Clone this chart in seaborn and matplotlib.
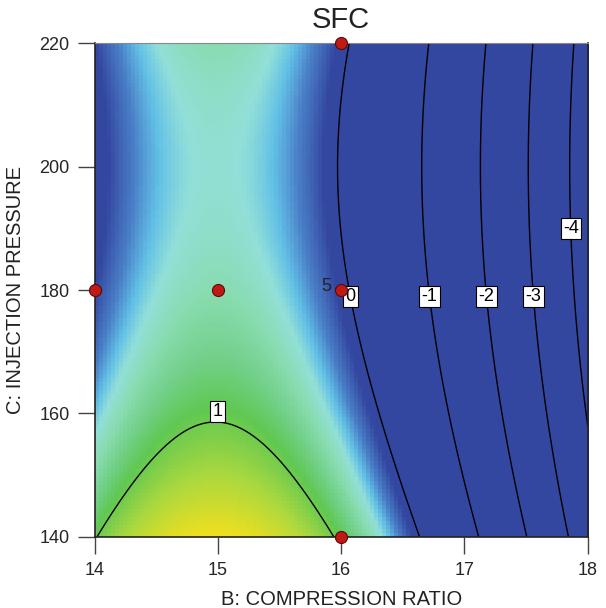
import matplotlib
matplotlib.use("Agg")
import matplotlib.pyplot as plt
import numpy as np
import pandas as pd
import seaborn as sns
from matplotlib.colors import LinearSegmentedColormap

# fitted quadratic model for SFC in coded units
# SFC = b0 + b1*B + b2*C + b11*B^2 + b22*C^2   (B, C coded -1..+1)
coef_names = ["b0", "B", "C", "B2", "C2"]
coef_values = [0.075, -2.244, -0.43, -2.2, 0.43]

b_range = [14, 18]
c_range = [140, 220]
b_ticks = [14, 15, 16, 17, 18]
c_ticks = [140, 160, 180, 200, 220]

# design points
design_b = [14, 15, 16, 16, 16]
design_c = [180, 180, 180, 220, 140]

contour_levels = [-4, -3, -2, -1, 0, 1]
label_pos = [(17.9, 190), (17.58, 179), (17.2, 179), (16.73, 179), (16.1, 179), (15.0, 160)]

# colour scale (value -> colour)
cmap_values = [0.12, 0.30, 0.42, 0.52, 0.65, 0.80, 0.95, 1.20, 1.52]
cmap_colors = ["#3447a0", "#4a80c8", "#62c0e6", "#92e0d8", "#88dcb0",
               "#72d088", "#60c852", "#a8d840", "#f6e01c"]

sns.set_style("ticks")
plt.rcParams["font.family"] = ["Liberation Sans", "DejaVu Sans"]

coef = dict(zip(coef_names, coef_values))


def sfc(b, c):
    bc = (b - 16) / 2
    ccd = (c - 180) / 40
    return (coef["b0"] + coef["B"] * bc + coef["C"] * ccd
            + coef["B2"] * bc ** 2 + coef["C2"] * ccd ** 2)


# coarse grid for the colour map (blocky like the original), fine grid for lines
nb = 124
half_b = (b_range[1] - b_range[0]) / nb / 2
half_c = (c_range[1] - c_range[0]) / nb / 2
Bg, Cg = np.meshgrid(np.linspace(b_range[0] + half_b, b_range[1] - half_b, nb),
                     np.linspace(c_range[0] + half_c, c_range[1] - half_c, nb))
Zg = sfc(Bg, Cg)
B, C = np.meshgrid(np.linspace(b_range[0], b_range[1], 300),
                   np.linspace(c_range[0], c_range[1], 300))
Z = sfc(B, C)

vmin, vmax = cmap_values[0], cmap_values[-1]
stops = [(v - vmin) / (vmax - vmin) for v in cmap_values]
cmap = LinearSegmentedColormap.from_list("de", list(zip(stops, cmap_colors)))
cmap.set_under(cmap_colors[0])

fig = plt.figure(figsize=(6.06, 6.08), dpi=100)
ax = fig.add_axes([0.156, 0.117, 0.814, 0.812])

ax.imshow(Zg, origin="lower", extent=[b_range[0], b_range[1], c_range[0], c_range[1]],
          aspect="auto", cmap=cmap, vmin=vmin, vmax=vmax, interpolation="nearest")

cs = ax.contour(B, C, Z, levels=contour_levels, colors="black",
                linewidths=1.0, linestyles="solid")
labels = ax.clabel(cs, fmt="%d", fontsize=13, inline=False, manual=label_pos)
for t in labels:
    t.set_rotation(0)
    t.set_bbox(dict(boxstyle="square,pad=0.12", facecolor="white", edgecolor="black", linewidth=0.8))
    if t.get_text() == "1":
        x, y = t.get_position()
        t.set_position((x, y + 1.7))

pts = pd.DataFrame({"B": design_b, "C": design_c})
sns.scatterplot(data=pts, x="B", y="C", ax=ax, s=75, color="#c01a14",
                edgecolor="#5a0a08", linewidth=0.8, zorder=5, clip_on=False)
ax.text(15.92, 180.6, "5", fontsize=13, ha="right", va="center", color="#222222")

ax.set_xlim(b_range)
ax.set_ylim(c_range)
ax.set_xticks(b_ticks)
ax.set_yticks(c_ticks)
ax.tick_params(direction="out", length=12, width=1, color="#444444", labelsize=13, pad=6)
ax.set_xlabel("B: COMPRESSION RATIO", fontsize=14.5, color="#222222", labelpad=8)
ax.set_ylabel("C: INJECTION PRESSURE", fontsize=14.5, color="#222222", labelpad=10)
ax.set_title("SFC", fontsize=21, color="#222222", pad=11)

for side in ["left", "bottom", "right"]:
    ax.spines[side].set_color("#222222")
    ax.spines[side].set_linewidth(1.2)
ax.spines["top"].set_color("#888888")

fig.savefig("out.png", dpi=100)
